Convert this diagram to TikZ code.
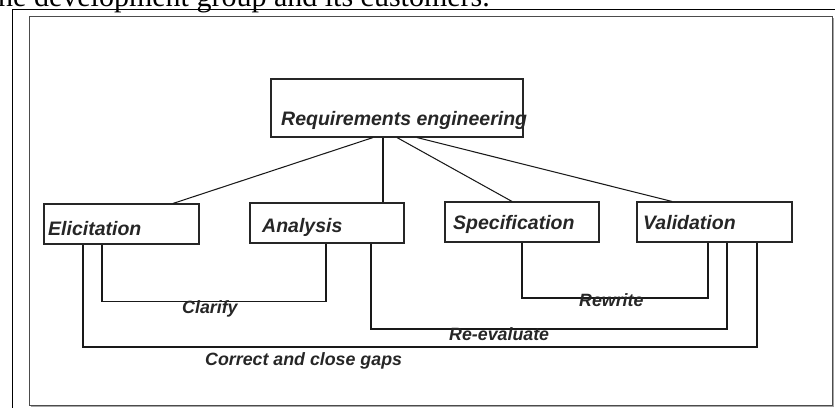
\documentclass[tikz,border=0pt]{standalone}
\usepackage{fontspec}
\setmainfont{Liberation Sans}
\newfontfamily\captionserif{Liberation Serif}
\begin{document}
\begin{tikzpicture}[x=1pt,y=-1pt,
  stagebox/.style={draw=black!85, line width=1.1pt, inner sep=0pt},
  boxtext/.style={anchor=base west, inner sep=0pt,
    font=\fontsize{19.5}{22}\selectfont\bfseries\itshape, text=black!85},
  looptext/.style={anchor=base west, inner sep=0pt,
    font=\fontsize{17.8}{20}\selectfont\bfseries\itshape, text=black!85},
  link/.style={draw=black!90, line width=1.05pt},
]
\useasboundingbox (0,0) rectangle (835,407);
\clip (0,0) rectangle (835,407);

% caption line running above the frame
\node[anchor=base east, inner sep=0pt,
  font=\captionserif\fontsize{30}{34}\selectfont] (caption) at (490,6)
  {the development group and its customers.};

% outer and inner frames
\draw[black, line width=1pt] (12,420) -- (12,9) -- (850,9);
\draw[black!35, line width=1.2pt] (30.5,406.7) -- (833.8,406.7) -- (833.8,17.5);
\draw[black!70, line width=1pt] (29.5,16.5) rectangle (832.5,405.5);

% stage boxes
\node[stagebox, minimum width=252pt, minimum height=58pt] (req) at (397,108) {};
\node[stagebox, minimum width=155pt, minimum height=40pt] (eli) at (121.5,224) {};
\node[stagebox, minimum width=154pt, minimum height=40pt] (ana) at (327,223) {};
\node[stagebox, minimum width=154pt, minimum height=40pt] (spe) at (522,222) {};
\node[stagebox, minimum width=155pt, minimum height=40pt] (val) at (714.5,222) {};

% hierarchy links
\draw[link] (req.south -| 373,0) -- (eli.north -| 173,0);
\draw[link] (req.south -| 383,0) -- (ana.north -| 383,0);
\draw[link] (req.south -| 397,0) -- (spe.north -| 512,0);
\draw[link] (req.south -| 417,0) -- (val.north -| 672,0);

% feedback loops
\draw[link] (eli.south -| 102,0) -- (102,301.5) -- (326,301.5) -- (ana.south -| 326,0);
\draw[link] (spe.south -| 522,0) -- (522,298) -- (708,298) -- (val.south -| 708,0);
\draw[link] (ana.south -| 371,0) -- (371,329) -- (727,329) -- (val.south -| 727,0);
\draw[link] (eli.south -| 83,0) -- (83,347) -- (757,347) -- (val.south -| 757,0);

% box labels
\node[boxtext] (reqtext) at (281,125) {Requirements engineering};
\node[boxtext] (elitext) at (48,235) {Elicitation};
\node[boxtext] (anatext) at (262,232) {Analysis};
\node[boxtext] (spetext) at (453,229.5) {Specification};
\node[boxtext] (valtext) at (643,229.5) {Validation};

% loop labels
\node[looptext] (clarify) at (182,313) {Clarify};
\node[looptext] (rewrite) at (579,306) {Rewrite};
\node[looptext] (reeval) at (449,340) {Re-evaluate};
\node[looptext] (correct) at (205,365) {Correct and close gaps};
\end{tikzpicture}
\end{document}
